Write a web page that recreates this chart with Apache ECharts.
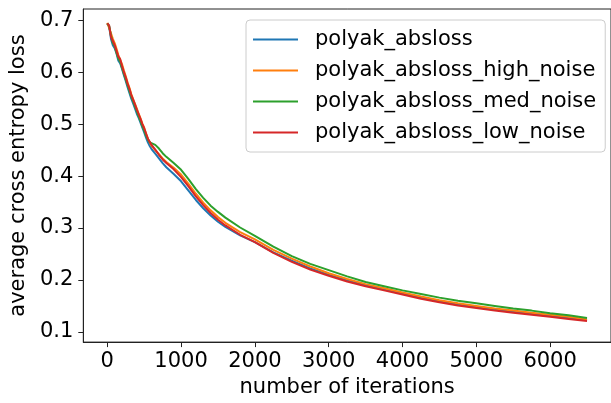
<!DOCTYPE html>
<html>
<head>
<meta charset="utf-8">
<script src="https://cdn.jsdelivr.net/npm/echarts@6/dist/echarts.min.js"></script>
<style>
html,body{margin:0;padding:0;background:#fff;}
#chart{width:611px;height:403px;}
</style>
</head>
<body>
<div id="chart"></div>
<script>
const iterations = [0,25,50,75,100,125,150,175,200,225,250,275,300,325,350,375,400,425,450,475,500,525,550,575,600,650,700,750,800,900,1000,1100,1200,1300,1400,1500,1600,1800,2000,2250,2500,2750,3000,3250,3500,3750,4000,4250,4500,4750,5000,5250,5500,5750,6000,6250,6500];

const polyakAbsloss = [0.693,0.688,0.664,0.652,0.646,0.636,0.622,0.617,0.606,0.594,0.583,0.571,0.560,0.549,0.540,0.530,0.520,0.512,0.503,0.493,0.484,0.474,0.465,0.458,0.452,0.443,0.434,0.425,0.417,0.404,0.390,0.372,0.354,0.338,0.324,0.312,0.302,0.286,0.273,0.253,0.237,0.222,0.210,0.199,0.190,0.182,0.174,0.166,0.159,0.153,0.148,0.143,0.139,0.135,0.131,0.127,0.123];

const polyakHighNoise = [0.695,0.692,0.675,0.664,0.656,0.645,0.633,0.630,0.615,0.603,0.592,0.580,0.570,0.558,0.548,0.539,0.530,0.520,0.511,0.501,0.493,0.482,0.472,0.465,0.458,0.450,0.442,0.434,0.427,0.416,0.403,0.385,0.366,0.349,0.334,0.321,0.310,0.292,0.278,0.258,0.241,0.226,0.213,0.202,0.192,0.184,0.176,0.168,0.161,0.155,0.150,0.145,0.141,0.137,0.133,0.129,0.124];

const polyakMedNoise = [0.694,0.689,0.670,0.656,0.650,0.637,0.626,0.620,0.608,0.597,0.586,0.575,0.564,0.553,0.544,0.534,0.525,0.515,0.506,0.496,0.488,0.478,0.470,0.465,0.463,0.460,0.453,0.444,0.437,0.425,0.412,0.394,0.375,0.358,0.343,0.331,0.320,0.301,0.285,0.264,0.246,0.231,0.219,0.207,0.196,0.188,0.180,0.173,0.166,0.160,0.155,0.150,0.145,0.141,0.136,0.132,0.127];

const polyakLowNoise = [0.694,0.690,0.668,0.660,0.652,0.641,0.630,0.625,0.612,0.600,0.590,0.578,0.568,0.556,0.547,0.538,0.528,0.519,0.510,0.500,0.492,0.482,0.472,0.466,0.460,0.451,0.441,0.432,0.425,0.413,0.398,0.380,0.361,0.344,0.329,0.316,0.305,0.287,0.273,0.252,0.235,0.220,0.208,0.197,0.188,0.180,0.172,0.164,0.157,0.151,0.146,0.141,0.137,0.133,0.129,0.125,0.121];

const seriesNames = ['polyak_absloss','polyak_absloss_high_noise','polyak_absloss_med_noise','polyak_absloss_low_noise'];
const seriesValues = [polyakAbsloss, polyakHighNoise, polyakMedNoise, polyakLowNoise];
const seriesColors = ['#1f77b4','#ff7f0e','#2ca02c','#d62728'];

const xTicks = [0,1000,2000,3000,4000,5000,6000];
const yTicks = [0.1,0.2,0.3,0.4,0.5,0.6,0.7];

const FONT = 'DejaVu Sans';
const FS = 21;

const chart = echarts.init(document.getElementById('chart'), null, {renderer:'canvas'});
chart.setOption({
  animation: false,
  backgroundColor: '#fff',
  textStyle: {fontFamily: FONT},
  grid: {left: 81, top: 9, width: 539, height: 338, show: true, borderColor: '#222', borderWidth: 1, backgroundColor: 'transparent'},
  xAxis: {
    type: 'value', min: -325, max: 6825,
    name: 'number of iterations', nameLocation: 'middle', nameGap: 29,
    nameTextStyle: {fontFamily: FONT, fontSize: FS, color: '#000'},
    axisLine: {show: true, onZero: false, lineStyle: {color: '#222', width: 1}},
    axisTick: {show: true, customValues: xTicks, length: 5, lineStyle: {color: '#222', width: 1}},
    axisLabel: {customValues: xTicks, margin: 9, fontFamily: FONT, fontSize: FS, color: '#000', formatter: v => String(Math.round(v))},
    splitLine: {show: false}
  },
  yAxis: {
    type: 'value', min: 0.0804, max: 0.7216,
    name: 'average cross entropy loss', nameLocation: 'middle', nameGap: 54,
    nameTextStyle: {fontFamily: FONT, fontSize: FS, color: '#000'},
    axisLine: {show: true, onZero: false, lineStyle: {color: '#222', width: 1}},
    axisTick: {show: true, customValues: yTicks, length: 5, lineStyle: {color: '#222', width: 1}},
    axisLabel: {customValues: yTicks, margin: 10, fontFamily: FONT, fontSize: FS, color: '#000', formatter: v => v.toFixed(1)},
    splitLine: {show: false}
  },
  legend: {
    orient: 'vertical', left: 246, top: 20,
    padding: [9, 9, 9, 7],
    backgroundColor: '#fff',
    borderColor: '#cccccc', borderWidth: 1, borderRadius: 4,
    icon: 'rect', itemWidth: 45, itemHeight: 2, itemGap: 10,
    textStyle: {fontFamily: FONT, fontSize: FS, color: '#000', padding: [0,0,0,12]},
    data: seriesNames
  },
  series: seriesNames.map((n, i) => ({
    name: n, type: 'line', showSymbol: false, symbol: 'none',
    color: seriesColors[i],
    lineStyle: {width: 2, color: seriesColors[i]},
    data: iterations.map((x, j) => [x, seriesValues[i][j]])
  }))
});
</script>
</body>
</html>
